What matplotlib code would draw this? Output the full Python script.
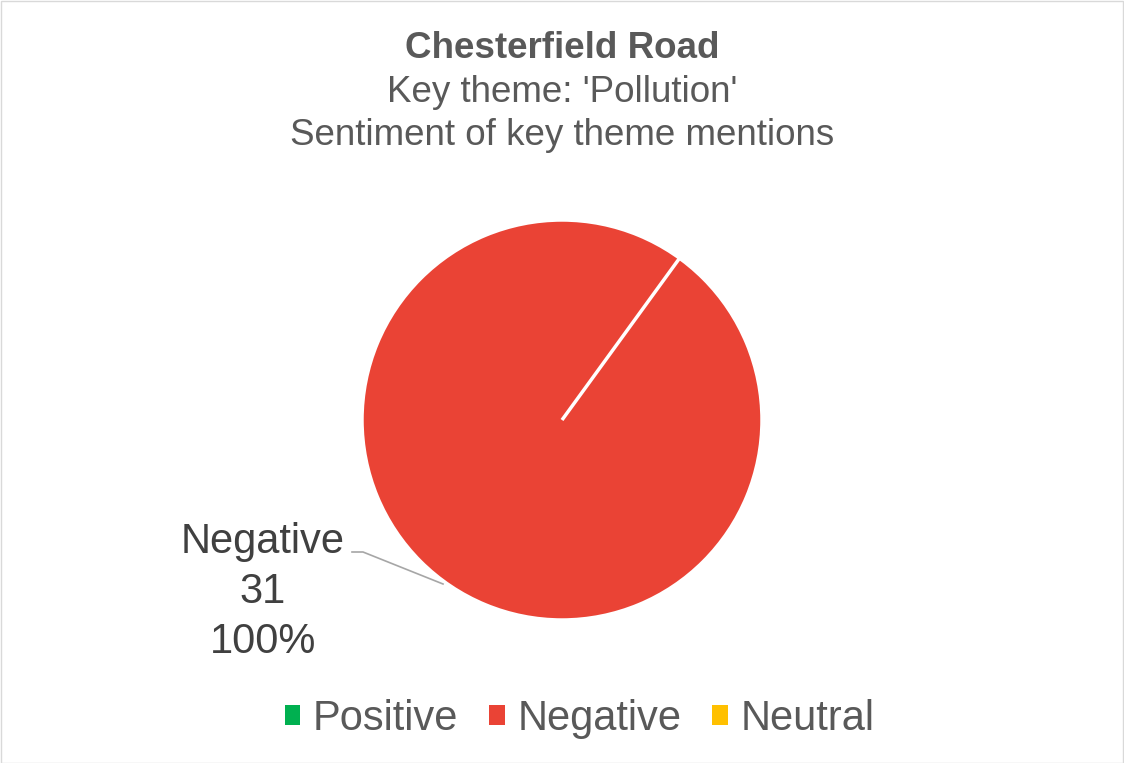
import matplotlib
matplotlib.use("Agg")
import matplotlib.pyplot as plt
from matplotlib.patches import Rectangle

plt.rcParams['font.family'] = ['Liberation Sans', 'DejaVu Sans']

# Sentiment counts for the 'Pollution' theme
categories = ["Positive", "Negative", "Neutral"]
counts = [0, 31, 0]
colors = ["#00B050", "#EA4335", "#FFC000"]

title_lines = ["Chesterfield Road", "Key theme: 'Pollution'", "Sentiment of key theme mentions"]

W, H = 1124, 763
fig = plt.figure(figsize=(W / 100, H / 100), dpi=100)
ax = fig.add_axes([0, 0, 1, 1])
ax.set_xlim(0, W)
ax.set_ylim(0, H)
ax.set_aspect('equal')
ax.axis('off')

# chart border
fig.patches.append(Rectangle((0.5 / W, 0.5 / H), 1 - 1.5 / W, 1 - 1.5 / H,
                             transform=fig.transFigure, fill=False,
                             edgecolor="#D9D9D9", linewidth=1))

cx, cy, r = 562, H - 420, 200
wedges, _ = ax.pie(counts, colors=colors, startangle=54, counterclock=False,
                   center=(cx, cy), radius=r, frame=True,
                   wedgeprops=dict(edgecolor="white", linewidth=2.5))
ax.set_xlim(0, W)
ax.set_ylim(0, H)
ax.axis('off')

# titles
tcol = "#595959"
ax.text(W / 2, H - 58, title_lines[0], ha='center', va='baseline', fontsize=26.5,
        fontweight='bold', color=tcol)
ax.text(W / 2, H - 102, title_lines[1], ha='center', va='baseline', fontsize=26.5, color=tcol)
ax.text(W / 2, H - 145, title_lines[2], ha='center', va='baseline', fontsize=26.5, color=tcol)

# data label with leader line
total = sum(counts)
i = categories.index("Negative")
label = f"{categories[i]}\n{counts[i]}\n{counts[i] / total:.0%}"
ax.text(263, H - 522, label, ha='center', va='top', fontsize=30, color="#404040",
        linespacing=1.32)
ax.plot([352, 363, 443], [H - 552, H - 552, H - 584], color="#A6A6A6", linewidth=1.2)

# legend
leg = fig.legend(wedges, categories, loc='center', bbox_to_anchor=(0.5156, 1 - 719 / H),
                 ncol=3, frameon=False, fontsize=30, handlelength=0.37, handleheight=0.37,
                 handletextpad=0.3, columnspacing=0.75, borderaxespad=0, labelcolor=tcol)
for h in leg.legend_handles:
    h.set_edgecolor('none')

fig.savefig("out.png", dpi=100, facecolor='white')
